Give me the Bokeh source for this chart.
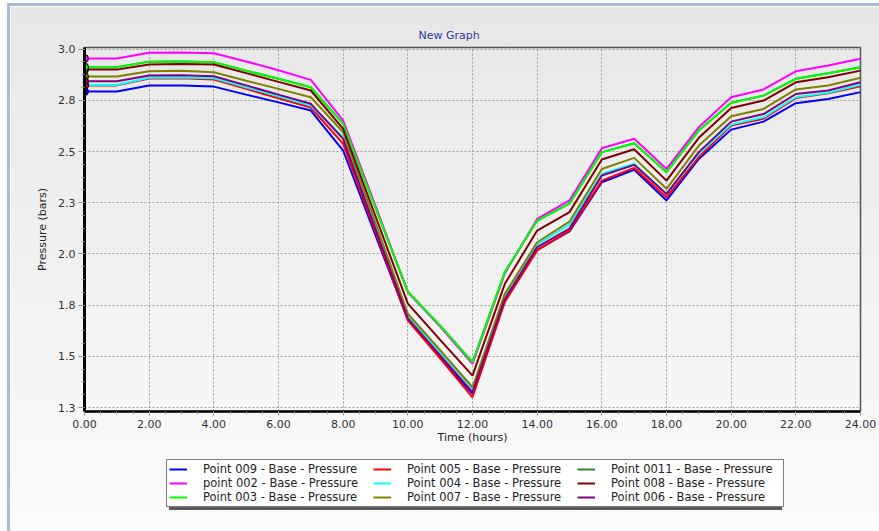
from bokeh.plotting import figure
from bokeh.layouts import column
from bokeh.models import Range1d, FixedTicker, Legend, LegendItem, CustomJSTickFormatter
from bokeh.embed import file_html
from bokeh.resources import INLINE

# ---------------- data ----------------
hours = list(range(0, 25))

point_009 = [2.793, 2.793, 2.822, 2.822, 2.817, 2.778, 2.740, 2.700, 2.505, 2.090, 1.680, 1.495, 1.317,
             1.775, 2.020, 2.110, 2.350, 2.411, 2.261, 2.464, 2.607, 2.646, 2.736, 2.757, 2.790]
point_002 = [2.954, 2.954, 2.982, 2.984, 2.980, 2.940, 2.897, 2.850, 2.651, 2.235, 1.813, 1.645, 1.463,
             1.905, 2.171, 2.261, 2.516, 2.562, 2.415, 2.619, 2.765, 2.803, 2.892, 2.920, 2.953]
point_003 = [2.912, 2.912, 2.939, 2.940, 2.936, 2.895, 2.855, 2.814, 2.635, 2.225, 1.815, 1.650, 1.471,
             1.911, 2.163, 2.246, 2.497, 2.540, 2.399, 2.603, 2.738, 2.773, 2.855, 2.882, 2.912]
point_005 = [2.823, 2.823, 2.857, 2.858, 2.852, 2.806, 2.760, 2.715, 2.537, 2.105, 1.675, 1.490, 1.300,
             1.765, 2.017, 2.114, 2.358, 2.420, 2.277, 2.473, 2.627, 2.660, 2.761, 2.785, 2.819]
point_004 = [2.825, 2.825, 2.860, 2.861, 2.858, 2.814, 2.770, 2.725, 2.570, 2.130, 1.699, 1.520, 1.343,
             1.789, 2.046, 2.143, 2.391, 2.440, 2.293, 2.489, 2.632, 2.667, 2.765, 2.787, 2.826]
point_007 = [2.866, 2.866, 2.892, 2.895, 2.887, 2.846, 2.806, 2.765, 2.594, 2.151, 1.708, 1.530, 1.349,
             1.805, 2.057, 2.158, 2.415, 2.469, 2.318, 2.529, 2.672, 2.708, 2.803, 2.822, 2.860]
# Point 0011 is hidden beneath Point 003 in the picture (same readings)
point_0011 = [2.912, 2.912, 2.939, 2.940, 2.936, 2.895, 2.855, 2.814, 2.635, 2.225, 1.815, 1.650, 1.471,
              1.911, 2.163, 2.246, 2.497, 2.540, 2.399, 2.603, 2.738, 2.773, 2.855, 2.882, 2.912]
point_008 = [2.900, 2.900, 2.925, 2.928, 2.925, 2.883, 2.840, 2.798, 2.611, 2.184, 1.757, 1.580, 1.406,
             1.854, 2.114, 2.204, 2.461, 2.511, 2.358, 2.567, 2.713, 2.749, 2.838, 2.863, 2.895]
point_006 = [2.843, 2.843, 2.871, 2.872, 2.868, 2.823, 2.778, 2.733, 2.562, 2.120, 1.685, 1.505, 1.325,
             1.780, 2.033, 2.124, 2.383, 2.435, 2.293, 2.497, 2.646, 2.683, 2.781, 2.798, 2.838]

series_labels = [
    "Point 009 - Base - Pressure",
    "point 002 - Base - Pressure",
    "Point 003 - Base - Pressure",
    "Point 005 - Base - Pressure",
    "Point 004 - Base - Pressure",
    "Point 007 - Base - Pressure",
    "Point 0011 - Base - Pressure",
    "Point 008 - Base - Pressure",
    "Point 006 - Base - Pressure",
]
series_values = [point_009, point_002, point_003, point_005, point_004,
                 point_007, point_0011, point_008, point_006]
series_colors = ["#0000ff", "#ff00ff", "#00ff00", "#ff0000", "#00ffff",
                 "#808000", "#2e8b2e", "#800000", "#800080"]

x_ticks = [0, 2, 4, 6, 8, 10, 12, 14, 16, 18, 20, 22, 24]
x_tick_labels = ["0.00", "2.00", "4.00", "6.00", "8.00", "10.00", "12.00",
                 "14.00", "16.00", "18.00", "20.00", "22.00", "24.00"]
y_ticks = [1.25, 1.5, 1.75, 2.0, 2.25, 2.5, 2.75, 3.0]
y_tick_labels = ["1.3", "1.5", "1.8", "2.0", "2.3", "2.5", "2.8", "3.0"]

chart_title = "New Graph"
x_title = "Time (hours)"
y_title = "Pressure (bars)"

# ---------------- main figure ----------------
FONT = "DejaVu Sans"
BLUE = "#a7bcd9"
W = 879
H1 = 450
H2 = 81

p = figure(width=W, height=H1, output_backend="svg", toolbar_location=None,
           x_range=Range1d(0, 24), y_range=Range1d(1.2305, 3.008),
           min_border_left=84, min_border_right=19, min_border_top=47, min_border_bottom=39,
           background_fill_color=None, border_fill_color=None, title=chart_title)

p.title.text_font = FONT
p.title.text_font_size = "11px"
p.title.text_font_style = "normal"
p.title.text_color = "#333399"
p.title.align = "left"
p.title.offset = 334
p.title.standoff = 12

p.outline_line_color = "#555555"
p.outline_line_width = 1.5

x_minor = [i * 0.5 for i in range(49)]
y_minor = [1.25 + i * 0.0625 for i in range(29)]

fmt_code = """
for (let j = 0; j < vals.length; j++) {
  if (Math.abs(vals[j] - tick) < 1e-9) { return labels[j]; }
}
return "";
"""
p.xaxis.ticker = FixedTicker(ticks=x_ticks, minor_ticks=x_minor)
p.yaxis.ticker = FixedTicker(ticks=y_ticks, minor_ticks=y_minor)
p.xaxis.formatter = CustomJSTickFormatter(args=dict(vals=x_ticks, labels=x_tick_labels), code=fmt_code)
p.yaxis.formatter = CustomJSTickFormatter(args=dict(vals=y_ticks, labels=y_tick_labels), code=fmt_code)

p.xaxis.axis_label = x_title
p.yaxis.axis_label = y_title
for ax in (p.xaxis, p.yaxis):
    ax.axis_label_text_font = FONT
    ax.axis_label_text_font_size = "11px"
    ax.axis_label_text_font_style = "normal"
    ax.axis_label_text_color = "#222222"
    ax.major_label_text_font = FONT
    ax.major_label_text_font_size = "11px"
    ax.major_label_text_color = "#333333"
    ax.axis_line_color = "black"
    ax.major_tick_line_color = "#888888"
    ax.minor_tick_line_color = "#999999"
    ax.major_tick_in = 0
    ax.minor_tick_in = 0
    ax.minor_tick_out = 3

p.yaxis.axis_line_width = 3
p.yaxis.major_tick_out = 6
p.yaxis.major_label_standoff = 3
p.yaxis.axis_label_standoff = 6
p.xaxis.axis_line_width = 2.5
p.xaxis.major_tick_out = 4
p.xaxis.major_label_standoff = 4
p.xaxis.axis_label_standoff = 0

p.xgrid.ticker = FixedTicker(ticks=x_ticks)
p.ygrid.ticker = FixedTicker(ticks=y_ticks)
for g in (p.xgrid, p.ygrid):
    g.grid_line_color = "#a0a0a0"
    g.grid_line_dash = "2 2"
    g.grid_line_width = 1

# lines: Point 0011 first so that Point 003 lies over it, then legend order
draw_order = [6, 0, 1, 2, 3, 4, 5, 7, 8]
for i in draw_order:
    vals = series_values[i]
    p.line(hours[:len(vals)], vals, line_color=series_colors[i], line_width=2)

# start-of-period markers
marker_order = [6, 7, 5, 4, 3, 8, 2, 1, 0]
for i in marker_order:
    vals = series_values[i]
    if vals:
        p.scatter([hours[0]], [vals[0]], size=8, fill_color=series_colors[i],
                  line_color="black", line_width=1)

# ---------------- legend strip (same series, scrolled out of view) ----------------
q = figure(width=W, height=H2, output_backend="svg", toolbar_location=None,
           x_range=Range1d(100, 101), y_range=Range1d(100, 101),
           min_border=0, background_fill_color=None, border_fill_color=None,
           x_axis_type=None, y_axis_type=None)
q.outline_line_color = None
q.grid.visible = False

legend_renderers = [q.line(hours[:len(vals)], vals, line_color=col, line_width=2)
                    for vals, col in zip(series_values, series_colors)]
items = [LegendItem(label=lbl, renderers=[r]) for lbl, r in zip(series_labels, legend_renderers)]
legend = Legend(items=items, location=(82, 24), orientation="vertical", nrows=3,
                border_line_color="black", border_line_width=1,
                background_fill_color="white", background_fill_alpha=1,
                label_text_font=FONT, label_text_font_size="11.5px", label_text_color="#222222",
                glyph_width=18, glyph_height=14, label_height=14, label_width=170,
                label_standoff=16, spacing=0, padding=2, margin=0)
q.add_layout(legend, "center")

layout = column(p, q, spacing=0)
layout.styles = {
    "background": (
        f"linear-gradient(#5a5a5a, #5a5a5a) 169px 464px / 613px 46px no-repeat, "
        f"linear-gradient({BLUE}, {BLUE}) 7px 3px / 3px 100% no-repeat, "
        f"linear-gradient({BLUE}, {BLUE}) 7px 3px / 100% 3px no-repeat, "
        f"linear-gradient(#ffffff, #ffffff) 10px 6px / 1px 100% no-repeat, "
        f"linear-gradient(#ffffff, #ffffff) 10px 6px / 100% 1px no-repeat, "
        f"linear-gradient(#e7e7e7, #fbfbfb) 10px 6px / 100% 100% no-repeat, "
        f"#ffffff"
    )
}

open("out.html", "w").write(file_html(layout, INLINE))
